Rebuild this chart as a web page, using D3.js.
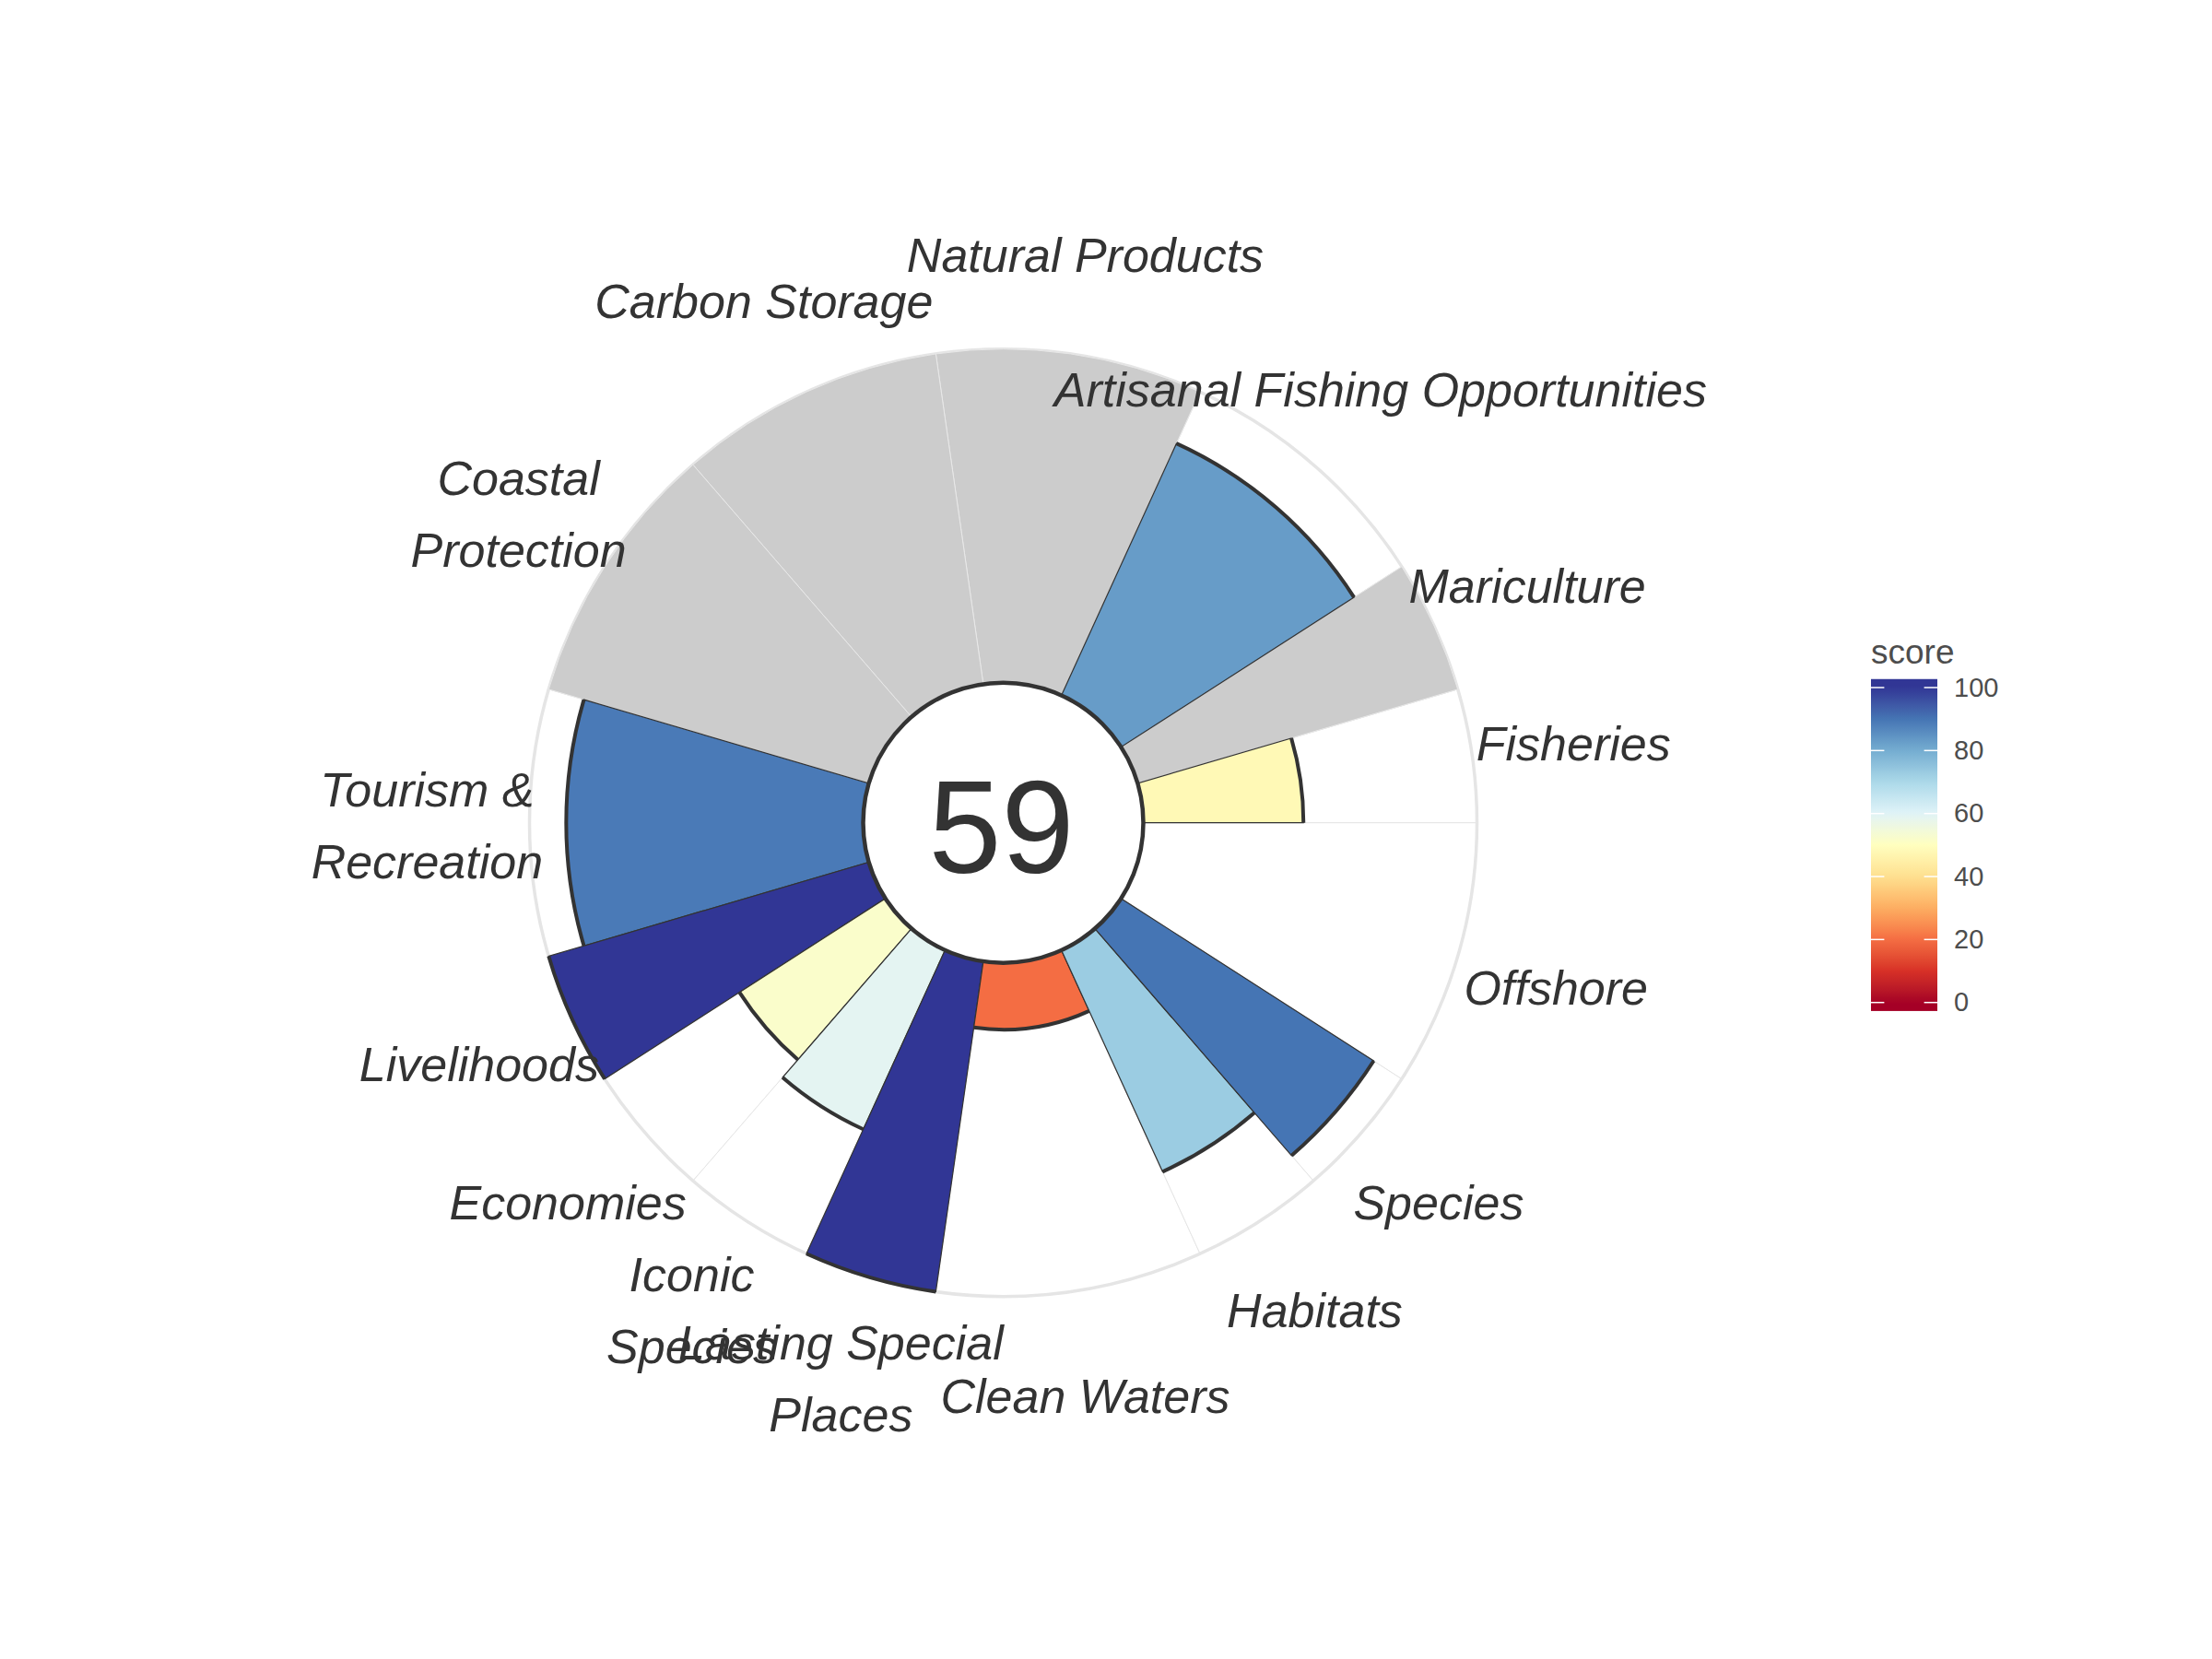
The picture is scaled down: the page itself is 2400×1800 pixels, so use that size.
<!DOCTYPE html>
<html><head><meta charset="utf-8">
<script src="https://cdn.jsdelivr.net/npm/d3@7"></script>
<style>body{margin:0;background:#fff}</style>
</head><body>
<svg id="chart" width="2400" height="1800" xmlns="http://www.w3.org/2000/svg"></svg>
<script>
// ---- data ----
const goals = ["Fisheries","Mariculture","Artisanal Fishing Opportunities","Natural Products","Carbon Storage","Coastal\nProtection","Tourism &\nRecreation","Livelihoods","Economies","Iconic\nSpecies","Lasting Special\nPlaces","Clean Waters","Habitats","Species","Offshore"];
const weights = [1,1,2,2,2,2,2,1,1,1,1,2,1,1,2];
const scores = [48,null,83,null,null,null,89,100,52,59,100,20,73,90,0];
const overallScore = 59;
const legendTicks = [0,20,40,60,80,100];
const paletteColors = ["#a50026","#d73027","#f46d43","#fdae61","#fee090","#ffffbf","#e0f3f8","#abd9e9","#74add1","#4575b4","#313695"];
const legendTitle = "score";

// ---- layout ----
const W = 2400, H = 1800;
const cx = 1088.5, cy = 892.7;
const FONT = "'Liberation Sans', Arial, Helvetica, sans-serif";
const svg = d3.select("#chart");
svg.append("rect").attr("width", W).attr("height", H).attr("fill", "#fff");

const rScale = d3.scaleLinear().domain([0, 100]).range([152, 514]);
const total = d3.sum(weights);
const cum = [0];
weights.forEach((w, i) => cum.push(cum[i] + w));
const theta = d3.scaleLinear().domain([0, total]).range([0, 2 * Math.PI]); // math angle, ccw from east

const colorScale = d3.scaleLinear()
  .domain(paletteColors.map((c, i) => i * 100 / (paletteColors.length - 1)))
  .range(paletteColors)
  .interpolate(d3.interpolateLab)
  .clamp(true);

const data = goals.map((g, i) => ({
  name: g, weight: weights[i], score: scores[i],
  t0: theta(cum[i]), t1: theta(cum[i + 1])
}));

const g = svg.append("g").attr("transform", `translate(${cx},${cy})`);

const sector = (rOuter) => d3.arc()
  .innerRadius(rScale(0))
  .outerRadius(rOuter)
  .startAngle(d => Math.PI / 2 - d.t1)
  .endAngle(d => Math.PI / 2 - d.t0);

// background petals
g.selectAll("path.bg").data(data).enter().append("path")
  .attr("class", "bg")
  .attr("d", sector(rScale(100)))
  .attr("fill", "#ffffff")
  .attr("stroke", "#e5e5e5")
  .attr("stroke-width", 1);

// outer ring at 100
g.append("circle").attr("r", rScale(100))
  .attr("fill", "none").attr("stroke", "#e5e5e5").attr("stroke-width", 3.5);

// NA petals
g.selectAll("path.na").data(data.filter(d => d.score === null)).enter().append("path")
  .attr("class", "na")
  .attr("d", sector(rScale(100)))
  .attr("fill", "#cccccc")
  .attr("stroke", "#e8e8e8")
  .attr("stroke-width", 1);

// score bars
const scored = data.filter(d => d.score !== null && d.score > 0);
g.selectAll("path.bar").data(scored).enter().append("path")
  .attr("class", "bar")
  .attr("d", d => sector(rScale(d.score))(d))
  .attr("fill", d => colorScale(d.score))
  .attr("stroke", "#333333")
  .attr("stroke-width", 1.2);

// thick arcs at score
function arcLine(r, t0, t1) {
  const p = d3.path();
  p.moveTo(r * Math.cos(t0), -r * Math.sin(t0));
  p.arc(0, 0, r, -t0, -t1, true);
  return p.toString();
}
g.selectAll("path.cap").data(scored).enter().append("path")
  .attr("class", "cap")
  .attr("d", d => arcLine(rScale(d.score), d.t0, d.t1))
  .attr("fill", "none")
  .attr("stroke", "#333333")
  .attr("stroke-width", 4);

// inner circle
g.append("circle").attr("r", rScale(0))
  .attr("fill", "#ffffff").attr("stroke", "#333333").attr("stroke-width", 4.5);

// center score
const centerSize = 142;
g.append("text")
  .attr("x", -2).attr("y", 3 + 0.716 * centerSize / 2)
  .attr("text-anchor", "middle")
  .attr("font-family", FONT).attr("font-size", centerSize)
  .attr("fill", "#333333")
  .text(overallScore);

// goal labels
const labelSize = 52, lineH = 78, rLabel = rScale(130.7);
data.forEach(d => {
  const tm = (d.t0 + d.t1) / 2;
  const x = rLabel * Math.cos(tm), y = -rLabel * Math.sin(tm) + 2.5;
  const lines = d.name.split("\n");
  const y0 = y - (lines.length - 1) * lineH / 2 + 0.716 * labelSize / 2;
  const t = g.append("text")
    .attr("text-anchor", "middle")
    .attr("font-family", FONT).attr("font-style", "italic")
    .attr("font-size", labelSize).attr("fill", "#333333");
  lines.forEach((ln, k) => {
    t.append("tspan").attr("x", x).attr("y", y0 + k * lineH).text(ln);
  });
});

// ---- legend ----
const lg = svg.append("g");
const lx = 2030, lw = 72;
const ly = d3.scaleLinear().domain([0, 100]).range([1087.7, 746]);
const barTop = ly(102.7), barBot = ly(-2.7);
const defs = svg.append("defs");
const grad = defs.append("linearGradient").attr("id", "lgrad")
  .attr("x1", 0).attr("y1", 1).attr("x2", 0).attr("y2", 0);
d3.range(0, 101, 2).forEach(p => {
  const v = -2.7 + p / 100 * 105.4;
  grad.append("stop").attr("offset", p + "%").attr("stop-color", colorScale(v));
});
lg.append("rect").attr("x", lx).attr("y", barTop).attr("width", lw).attr("height", barBot - barTop)
  .attr("fill", "url(#lgrad)");
legendTicks.forEach(v => {
  lg.append("line").attr("x1", lx).attr("x2", lx + lw / 5).attr("y1", ly(v)).attr("y2", ly(v))
    .attr("stroke", "#ffffff").attr("stroke-width", 1.5);
  lg.append("line").attr("x1", lx + lw - lw / 5).attr("x2", lx + lw).attr("y1", ly(v)).attr("y2", ly(v))
    .attr("stroke", "#ffffff").attr("stroke-width", 1.5);
});
const axis = d3.axisRight(ly).tickValues(legendTicks).tickSize(0).tickPadding(18);
const ag = lg.append("g").attr("transform", `translate(${lx + lw},0)`).call(axis);
ag.select(".domain").remove();
ag.selectAll("text").attr("font-family", FONT).attr("font-size", 29).attr("fill", "#4d4d4d");
lg.append("text").attr("x", lx).attr("y", 720)
  .attr("font-family", FONT).attr("font-size", 37).attr("fill", "#4d4d4d")
  .text(legendTitle);
</script>
</body></html>
